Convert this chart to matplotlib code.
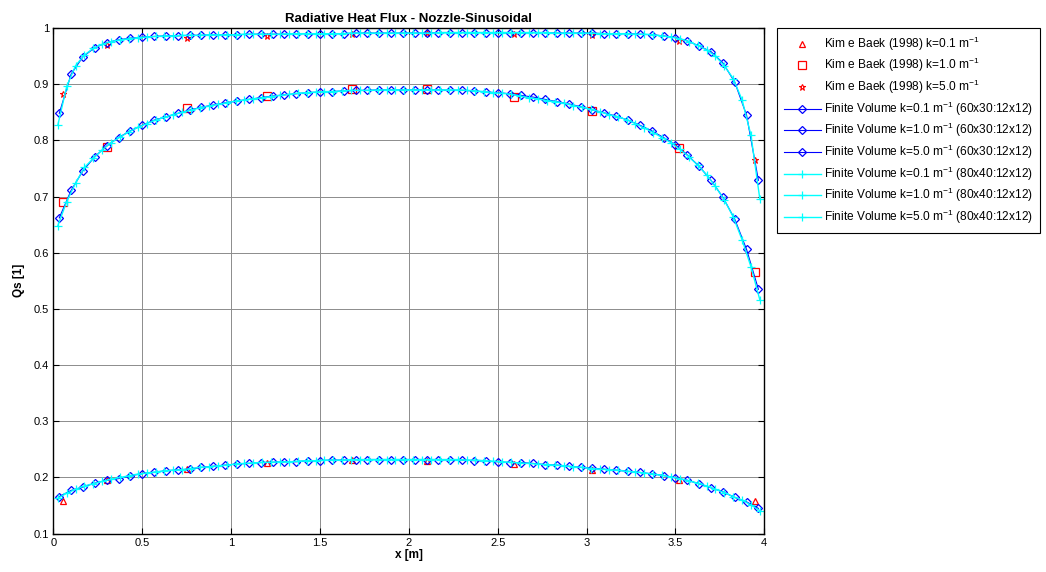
import numpy as np
import matplotlib
matplotlib.use("Agg")
import matplotlib.pyplot as plt
from matplotlib.ticker import FuncFormatter

plt.rcParams['font.family'] = ['Liberation Sans', 'DejaVu Sans']

# ---------------- data ----------------
kim_x = [0.055, 0.30, 0.75, 1.20, 1.68, 2.10, 2.59, 3.03, 3.52, 3.95]
kim_k01 = [0.1585, 0.195, 0.215, 0.225, 0.2307, 0.2295, 0.2237, 0.214, 0.195, 0.158]
kim_k10 = [0.690, 0.788, 0.858, 0.879, 0.891, 0.892, 0.878, 0.852, 0.787, 0.566]
kim_k50 = [0.883, 0.970, 0.982, 0.986, 0.990, 0.992, 0.989, 0.9875, 0.977, 0.765]

# Finite volume 60x30:12x12 (cell centres)
fv60_x = [(i + 0.5) * 4.0 / 60 for i in range(60)]
fv60_k01 = [0.166, 0.177, 0.183, 0.190, 0.195, 0.198, 0.203, 0.207, 0.209, 0.212,
            0.2135, 0.215, 0.218, 0.220, 0.222, 0.224, 0.225, 0.2265, 0.227, 0.228,
            0.228, 0.230, 0.230, 0.231, 0.231, 0.2315, 0.232, 0.232, 0.232, 0.232,
            0.232, 0.232, 0.232, 0.231, 0.231, 0.230, 0.229, 0.228, 0.2266, 0.2266,
            0.225, 0.223, 0.222, 0.220, 0.218, 0.2165, 0.2147, 0.213, 0.211, 0.209,
            0.2065, 0.2035, 0.1993, 0.1952, 0.1887, 0.1816, 0.1745, 0.1645, 0.1567, 0.145]
fv60_k10 = [0.662, 0.711, 0.746, 0.771, 0.790, 0.805, 0.817, 0.827, 0.836, 0.842,
            0.848, 0.854, 0.859, 0.863, 0.867, 0.870, 0.873, 0.876, 0.879, 0.881,
            0.883, 0.885, 0.886, 0.887, 0.888, 0.889, 0.889, 0.890, 0.890, 0.890,
            0.890, 0.890, 0.890, 0.889, 0.889, 0.888, 0.886, 0.885, 0.883, 0.880,
            0.877, 0.873, 0.869, 0.865, 0.860, 0.854, 0.849, 0.843, 0.836, 0.827,
            0.817, 0.805, 0.792, 0.774, 0.754, 0.729, 0.699, 0.660, 0.606, 0.535]
fv60_k50 = [0.848, 0.918, 0.949, 0.965, 0.974, 0.979, 0.982, 0.984, 0.985, 0.986,
            0.986, 0.987, 0.987, 0.988, 0.988, 0.988, 0.989, 0.989, 0.989, 0.989,
            0.990, 0.990, 0.990, 0.990, 0.990, 0.991, 0.991, 0.991, 0.991, 0.991,
            0.991, 0.991, 0.992, 0.992, 0.992, 0.992, 0.992, 0.992, 0.992, 0.992,
            0.992, 0.992, 0.991, 0.991, 0.991, 0.991, 0.990, 0.990, 0.990, 0.989,
            0.988, 0.986, 0.983, 0.977, 0.968, 0.958, 0.938, 0.904, 0.845, 0.729]

# Finite volume 80x40:12x12 (cell centres)
fv80_x = [(j + 0.5) * 4.0 / 80 for j in range(80)]
fv80_k01 = [0.163, 0.172, 0.179, 0.185, 0.189, 0.193, 0.197, 0.200, 0.203, 0.206,
            0.208, 0.210, 0.212, 0.213, 0.214, 0.216, 0.218, 0.219, 0.221, 0.222,
            0.224, 0.225, 0.226, 0.227, 0.227, 0.228, 0.228, 0.229, 0.230, 0.230,
            0.231, 0.231, 0.231, 0.232, 0.232, 0.232, 0.232, 0.232, 0.232, 0.232,
            0.232, 0.232, 0.232, 0.232, 0.232, 0.232, 0.231, 0.231, 0.230, 0.229,
            0.228, 0.227, 0.226, 0.225, 0.224, 0.223, 0.222, 0.221, 0.219, 0.218,
            0.216, 0.215, 0.214, 0.213, 0.211, 0.210, 0.208, 0.206, 0.204, 0.201,
            0.198, 0.194, 0.190, 0.185, 0.179, 0.173, 0.166, 0.160, 0.151, 0.141]
fv80_k10 = [0.648, 0.691, 0.724, 0.752, 0.768, 0.783, 0.796, 0.806, 0.815, 0.823,
            0.830, 0.836, 0.841, 0.846, 0.850, 0.854, 0.858, 0.861, 0.864, 0.867,
            0.870, 0.872, 0.874, 0.876, 0.878, 0.880, 0.882, 0.884, 0.885, 0.886,
            0.887, 0.887, 0.888, 0.889, 0.889, 0.889, 0.890, 0.890, 0.890, 0.890,
            0.890, 0.890, 0.890, 0.890, 0.890, 0.890, 0.889, 0.888, 0.887, 0.885,
            0.884, 0.882, 0.879, 0.876, 0.874, 0.871, 0.869, 0.866, 0.862, 0.859,
            0.855, 0.851, 0.846, 0.842, 0.837, 0.830, 0.822, 0.814, 0.805, 0.796,
            0.784, 0.771, 0.756, 0.739, 0.718, 0.694, 0.664, 0.623, 0.575, 0.516]
fv80_k50 = [0.827, 0.896, 0.933, 0.952, 0.964, 0.971, 0.976, 0.979, 0.981, 0.983,
            0.984, 0.985, 0.986, 0.986, 0.987, 0.987, 0.987, 0.988, 0.988, 0.988,
            0.988, 0.989, 0.989, 0.989, 0.989, 0.989, 0.990, 0.990, 0.990, 0.990,
            0.990, 0.990, 0.990, 0.991, 0.991, 0.991, 0.991, 0.991, 0.991, 0.991,
            0.991, 0.991, 0.991, 0.992, 0.992, 0.992, 0.992, 0.992, 0.992, 0.992,
            0.992, 0.992, 0.992, 0.992, 0.992, 0.992, 0.991, 0.991, 0.991, 0.991,
            0.991, 0.990, 0.990, 0.990, 0.990, 0.989, 0.989, 0.988, 0.986, 0.984,
            0.981, 0.976, 0.969, 0.961, 0.950, 0.933, 0.910, 0.872, 0.809, 0.695]

x_ticks = [0, 0.5, 1, 1.5, 2, 2.5, 3, 3.5, 4]
y_ticks = [0.1, 0.2, 0.3, 0.4, 0.5, 0.6, 0.7, 0.8, 0.9, 1.0]

labels = [
    r"Kim e Baek (1998) k=0.1 m$^{-1}$",
    r"Kim e Baek (1998) k=1.0 m$^{-1}$",
    r"Kim e Baek (1998) k=5.0 m$^{-1}$",
    r"Finite Volume k=0.1 m$^{-1}$ (60x30:12x12)",
    r"Finite Volume k=1.0 m$^{-1}$ (60x30:12x12)",
    r"Finite Volume k=5.0 m$^{-1}$ (60x30:12x12)",
    r"Finite Volume k=0.1 m$^{-1}$ (80x40:12x12)",
    r"Finite Volume k=1.0 m$^{-1}$ (80x40:12x12)",
    r"Finite Volume k=5.0 m$^{-1}$ (80x40:12x12)",
]

# ---------------- figure ----------------
plt.rcParams['mathtext.fontset'] = 'custom'
plt.rcParams['mathtext.rm'] = 'Liberation Sans'
plt.rcParams['mathtext.it'] = 'Liberation Sans'

fig = plt.figure(figsize=(10.46, 5.72), dpi=100)
ax = fig.add_axes([0.051, 0.067, 0.6797, 0.884])

red = '#ff0000'
blue = '#0000ff'
cyan = '#00ffff'

h = []
h += ax.plot(kim_x, kim_k01, linestyle='none', marker='^', ms=4.5, mfc='none', mec=red, mew=0.9)
h += ax.plot(kim_x, kim_k10, linestyle='none', marker='s', ms=6, mfc='none', mec=red, mew=0.9)
h += ax.plot(kim_x, kim_k50, linestyle='none', marker='*', ms=5, mfc='none', mec=red, mew=0.8)
for ys in (fv60_k01, fv60_k10, fv60_k50):
    h += ax.plot(fv60_x, ys, color=blue, lw=0.8, marker='D', ms=3.6, mfc='none', mec=blue, mew=0.9)
for ys in (fv80_k01, fv80_k10, fv80_k50):
    h += ax.plot(fv80_x, ys, color=cyan, lw=1.0, marker='+', ms=6, mec=cyan, mew=0.9)

ax.set_xlim(0, 4)
ax.set_ylim(0.1, 1.0)
ax.set_xticks(x_ticks)
ax.set_yticks(y_ticks)
fmt = FuncFormatter(lambda v, p: ('%g' % round(v, 3)))
ax.xaxis.set_major_formatter(fmt)
ax.yaxis.set_major_formatter(fmt)
ax.tick_params(direction='in', length=4, width=0.8, labelsize=8, top=True, right=True,
               colors='black', pad=3)
ax.grid(True, color='#8c8c8c', lw=0.7, ls='-')
ax.set_axisbelow(True)
for s in ax.spines.values():
    s.set_linewidth(1.0)
    s.set_color('black')

ax.set_title("Radiative Heat Flux - Nozzle-Sinusoidal", fontsize=9.5, fontweight='bold', pad=4)
ax.set_xlabel("x [m]", fontsize=8.5, fontweight='bold', labelpad=1)
ax.set_ylabel("Qs [1]", fontsize=8.5, fontweight='bold', labelpad=6)

leg = fig.legend(h, labels, loc='upper left', bbox_to_anchor=(0.743, 0.951),
                 fontsize=8.6, frameon=True, fancybox=False, framealpha=1,
                 edgecolor='black', handlelength=3.1, handletextpad=0.3,
                 labelspacing=0.29, borderpad=0.55, borderaxespad=0)
leg.get_frame().set_linewidth(0.8)

fig.savefig("out.png", dpi=100)
